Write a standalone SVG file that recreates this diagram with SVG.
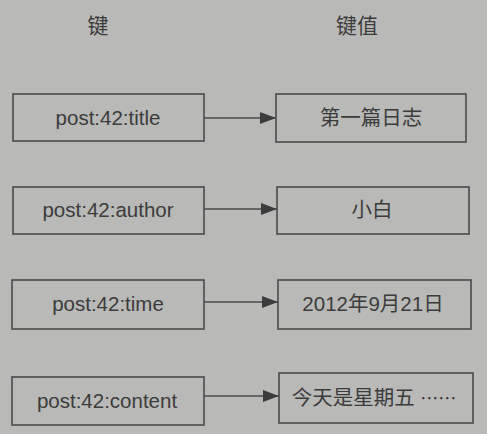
<svg xmlns="http://www.w3.org/2000/svg" width="487" height="434" viewBox="0 0 487 434">
<style>
.box{fill:none;stroke:#4a4a4a;stroke-width:1.6}
.t{font-family:"Liberation Sans","Noto Sans CJK SC",sans-serif;font-size:20.5px;fill:#3c3c3c;text-anchor:middle;dominant-baseline:central}
.h{font-size:21px}
.e{font-family:"Noto Sans CJK SC",sans-serif;font-size:18px}
.c{stroke:#4a4a4a;stroke-width:1.6;fill:none}
</style>
<defs>
<marker id="a" viewBox="0 0 16 12" refX="16" refY="6" markerWidth="16" markerHeight="12" markerUnits="userSpaceOnUse" orient="auto">
<path d="M0,0 L16,6 L0,12 z" fill="#3c3c3c"/>
</marker>
</defs>
<rect width="487" height="434" fill="#b9b9b7"/>
<text class="t h" x="98" y="25">键</text>
<text class="t h" x="357" y="25">键值</text>
<g id="k1"><rect class="box" x="13" y="94" width="191" height="47"/><text class="t" x="108" y="117">post:42:title</text></g>
<g id="v1"><rect class="box" x="276" y="94" width="190" height="48"/><text class="t" x="371" y="117">第一篇日志</text></g>
<g id="k2"><rect class="box" x="13" y="187" width="191" height="47"/><text class="t" x="108" y="209">post:42:author</text></g>
<g id="v2"><rect class="box" x="277" y="187" width="192" height="47"/><text class="t" x="372" y="209">小白</text></g>
<g id="k3"><rect class="box" x="12" y="280" width="192" height="49"/><text class="t" x="108" y="303">post:42:time</text></g>
<g id="v3"><rect class="box" x="278" y="280" width="193" height="49"/><text class="t" x="373" y="303">2012年9月21日</text></g>
<g id="k4"><rect class="box" x="12" y="377" width="192" height="48"/><text class="t" x="107" y="400">post:42:content</text></g>
<g id="v4"><rect class="box" x="279" y="373" width="194" height="50"/><text class="t" x="374" y="397">今天是星期五 <tspan class="e">……</tspan></text></g>
<g id="connectors">
<line class="c" x1="204" y1="118" x2="276" y2="118" marker-end="url(#a)"/>
<line class="c" x1="204" y1="209" x2="277" y2="209" marker-end="url(#a)"/>
<line class="c" x1="204" y1="302" x2="278" y2="302" marker-end="url(#a)"/>
<line class="c" x1="204" y1="396" x2="279" y2="396" marker-end="url(#a)"/>
</g>
</svg>
